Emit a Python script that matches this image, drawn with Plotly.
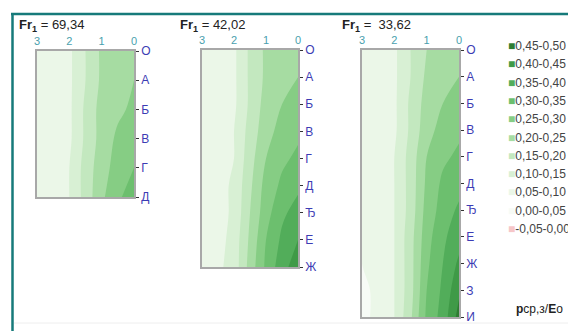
import plotly.graph_objects as go

# ---------------- data ----------------
x_vals = [0, 0.5, 1, 1.5, 2, 2.5, 3]
x_ticks = [3, 2, 1, 0]

rows1 = ['О', 'А', 'Б', 'В', 'Г', 'Д']
z1 = [
    [0.24, 0.23, 0.21, 0.15, 0.09, 0.08, 0.07],
    [0.25, 0.24, 0.21, 0.15, 0.09, 0.08, 0.07],
    [0.26, 0.24, 0.22, 0.16, 0.09, 0.08, 0.07],
    [0.28, 0.26, 0.22, 0.16, 0.09, 0.08, 0.07],
    [0.30, 0.27, 0.23, 0.17, 0.10, 0.08, 0.07],
    [0.33, 0.29, 0.24, 0.17, 0.10, 0.08, 0.07],
]

rows2 = ['О', 'А', 'Б', 'В', 'Г', 'Д', 'Ђ', 'Е', 'Ж']
z2 = [
    [0.24, 0.23, 0.21, 0.16, 0.09, 0.08, 0.07],
    [0.25, 0.24, 0.21, 0.16, 0.09, 0.08, 0.07],
    [0.27, 0.25, 0.22, 0.16, 0.09, 0.08, 0.07],
    [0.29, 0.27, 0.23, 0.17, 0.10, 0.08, 0.07],
    [0.31, 0.29, 0.25, 0.18, 0.10, 0.08, 0.07],
    [0.34, 0.31, 0.27, 0.19, 0.11, 0.08, 0.07],
    [0.37, 0.34, 0.28, 0.20, 0.11, 0.08, 0.07],
    [0.40, 0.36, 0.30, 0.21, 0.12, 0.08, 0.07],
    [0.43, 0.38, 0.31, 0.22, 0.12, 0.09, 0.07],
]

rows3 = ['О', 'А', 'Б', 'В', 'Г', 'Д', 'Ђ', 'Е', 'Ж', 'З', 'И']
z3 = [
    [0.24, 0.23, 0.20, 0.15, 0.09, 0.07, 0.06],
    [0.25, 0.24, 0.21, 0.15, 0.09, 0.07, 0.06],
    [0.27, 0.25, 0.22, 0.16, 0.09, 0.07, 0.06],
    [0.29, 0.27, 0.23, 0.16, 0.09, 0.07, 0.06],
    [0.31, 0.29, 0.25, 0.17, 0.10, 0.07, 0.05],
    [0.33, 0.31, 0.26, 0.17, 0.10, 0.07, 0.05],
    [0.36, 0.32, 0.27, 0.17, 0.10, 0.07, 0.05],
    [0.38, 0.34, 0.28, 0.18, 0.10, 0.07, 0.05],
    [0.41, 0.35, 0.29, 0.18, 0.10, 0.06, 0.05],
    [0.44, 0.36, 0.30, 0.18, 0.10, 0.06, 0.04],
    [0.47, 0.37, 0.31, 0.19, 0.10, 0.06, 0.04],
]

titles = ['69,34', '42,02', ' 33,62']

# legend bands, low -> high
band_labels = ['-0,05-0,00', '0,00-0,05', '0,05-0,10', '0,10-0,15', '0,15-0,20',
               '0,20-0,25', '0,25-0,30', '0,30-0,35', '0,35-0,40', '0,40-0,45', '0,45-0,50']
band_colors = ['#f6c6c8', '#f7fbf6', '#ebf7e8', '#d8f0d4', '#c3e8bf',
               '#a6dca2', '#86cd84', '#6cbf6e', '#52ad5a', '#3f9a47', '#2e7d32']

# ---------------- figure ----------------
W, H = 568, 331
def px_x(p): return p / W
def px_y(p): return 1 - p / H

# colorscale sampled at band mid-points by plotly's contour fill
nb = len(band_colors)
cs = [[0.0, band_colors[0]]]
for k, c in enumerate(band_colors):
    cs.append([(k + 1) / (nb + 1), c])
cs.append([1.0, band_colors[-1]])

panels = [
    (rows1, z1, (37, 134), (51, 197)),
    (rows2, z2, (202, 298), (50, 267)),
    (rows3, z3, (362, 459), (50, 317)),
]

FONT = 'Liberation Sans, Arial'
fig = go.Figure()
layout_axes = {}
for i, (rows, z, (xl, xr), (yt, yb)) in enumerate(panels):
    n = i + 1
    xa = 'x' if n == 1 else f'x{n}'
    ya = 'y' if n == 1 else f'y{n}'
    fig.add_trace(go.Contour(
        x=x_vals, y=list(range(len(rows))), z=z,
        xaxis=xa, yaxis=ya,
        colorscale=cs, showscale=False,
        autocontour=False,
        contours=dict(start=-0.05, end=0.5, size=0.05, coloring='fill', showlines=False),
        line=dict(width=0, smoothing=1.0),
        hoverinfo='skip', showlegend=False,
    ))
    xkey = 'xaxis' if n == 1 else f'xaxis{n}'
    ykey = 'yaxis' if n == 1 else f'yaxis{n}'
    layout_axes[xkey] = dict(
        domain=[px_x(xl), px_x(xr)], anchor=ya, side='top',
        range=[3, 0], tickvals=x_ticks, ticktext=[str(t) for t in x_ticks],
        showgrid=False, zeroline=False, showline=True, linecolor='#a8a8a8', linewidth=1.5,
        mirror=True, ticks='', ticklabelstandoff=0,
        tickfont=dict(family=FONT, size=11, color='#4a9fae'),
    )
    layout_axes[ykey] = dict(
        domain=[px_y(yb), px_y(yt)], anchor=xa, side='right',
        range=[len(rows) - 1, 0], tickvals=list(range(len(rows))), ticktext=rows,
        showgrid=False, zeroline=False, showline=True, linecolor='#a8a8a8', linewidth=1.5,
        mirror=True, ticks='outside', ticklen=3, tickcolor='#333333', tickwidth=1,
        tickfont=dict(family=FONT, size=12, color='#3c3cb4'),
    )

annotations = []
title_x = [17, 178, 340]
for tx, t in zip(title_x, titles):
    annotations.append(dict(
        x=px_x(tx), y=px_y(25), xref='paper', yref='paper', xanchor='left', yanchor='middle',
        text=f'<b>Fr<sub>1</sub></b> = {t}', showarrow=False,
        font=dict(family=FONT, size=13, color='#222222'),
    ))

# legend (top = highest band)
for k, (lab, col) in enumerate(zip(reversed(band_labels), reversed(band_colors))):
    annotations.append(dict(
        x=px_x(506), y=px_y(46 + 18.3 * k), xref='paper', yref='paper',
        xanchor='left', yanchor='middle', showarrow=False,
        text=f"<span style='color:{col}; font-size:12px'>■</span>{lab}",
        font=dict(family=FONT, size=12, color='#444444'),
    ))

annotations.append(dict(
    x=px_x(514), y=px_y(309), xref='paper', yref='paper', xanchor='left', yanchor='middle',
    text='<b>р</b>ср,з/<b>Е</b>о', showarrow=False,
    font=dict(family=FONT, size=12, color='#222222'),
))

shapes = [
    dict(type='line', xref='paper', yref='paper', x0=px_x(11), x1=1, y0=px_y(14), y1=px_y(14),
         line=dict(color='#167a7a', width=2.5)),
    dict(type='line', xref='paper', yref='paper', x0=px_x(12.5), x1=px_x(12.5), y0=0, y1=px_y(13),
         line=dict(color='#167a7a', width=2.5)),
    dict(type='line', xref='paper', yref='paper', x0=px_x(14), x1=1, y0=px_y(323), y1=px_y(323),
         line=dict(color='#eeeeee', width=1)),
]

fig.update_layout(
    width=W, height=H,
    margin=dict(l=0, r=0, t=0, b=0, autoexpand=False),
    paper_bgcolor='white', plot_bgcolor='white',
    showlegend=False,
    annotations=annotations, shapes=shapes,
    **layout_axes,
)

fig.write_html('out.html', config={'displayModeBar': False},
               post_script="document.body.style.margin='0';document.body.style.overflow='hidden';")
